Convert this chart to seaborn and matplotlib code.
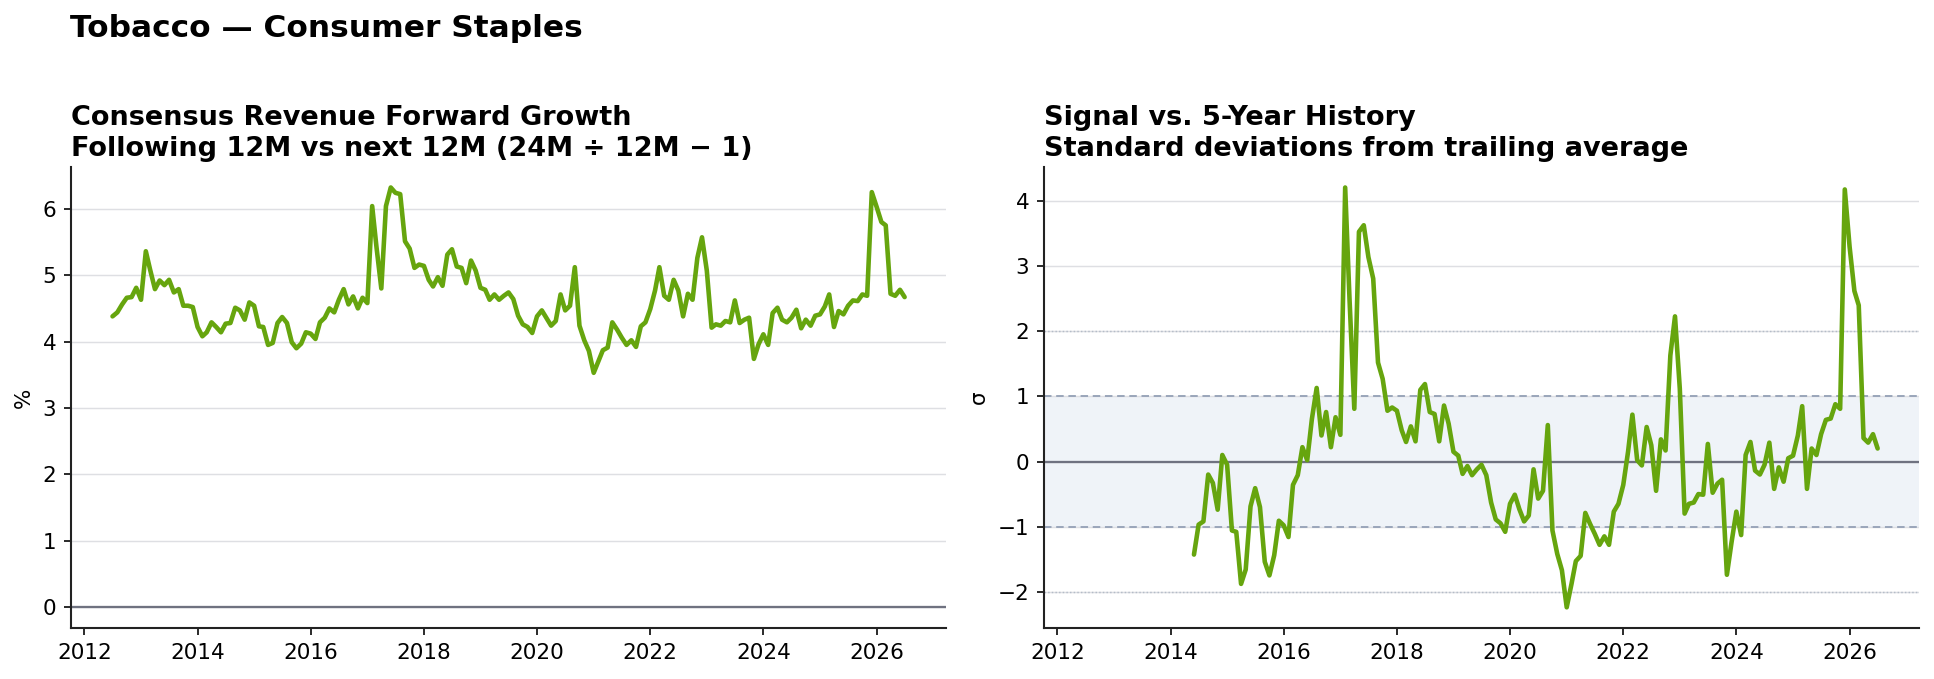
import matplotlib
matplotlib.use("Agg")
import matplotlib.pyplot as plt
import matplotlib.dates as mdates
import numpy as np
import pandas as pd
import seaborn as sns

# ---------------- data ----------------
growth_start = "2012-07-01"
growth_pct = [
    4.38, 4.44, 4.56, 4.66, 4.67, 4.81, 4.63, 5.36, 5.08, 4.79,
    4.92, 4.85, 4.93, 4.74, 4.79, 4.54, 4.54, 4.52, 4.22, 4.08,
    4.14, 4.29, 4.22, 4.14, 4.27, 4.28, 4.51, 4.47, 4.33, 4.59,
    4.54, 4.23, 4.22, 3.95, 3.98, 4.28, 4.37, 4.28, 3.99, 3.90,
    3.97, 4.14, 4.12, 4.04, 4.29, 4.36, 4.50, 4.44, 4.63, 4.79,
    4.56, 4.68, 4.50, 4.66, 4.58, 6.04, 5.42, 4.80, 6.04, 6.32,
    6.24, 6.22, 5.51, 5.40, 5.11, 5.16, 5.14, 4.93, 4.83, 4.97,
    4.84, 5.31, 5.39, 5.13, 5.11, 4.88, 5.22, 5.07, 4.81, 4.78,
    4.63, 4.71, 4.63, 4.69, 4.74, 4.64, 4.39, 4.26, 4.22, 4.13,
    4.38, 4.47, 4.36, 4.24, 4.31, 4.71, 4.47, 4.54, 5.12, 4.24,
    4.02, 3.86, 3.53, 3.71, 3.87, 3.91, 4.29, 4.18, 4.06, 3.95,
    4.02, 3.92, 4.23, 4.29, 4.49, 4.77, 5.12, 4.69, 4.63, 4.93,
    4.77, 4.38, 4.72, 4.63, 5.26, 5.57, 5.07, 4.21, 4.26, 4.24,
    4.31, 4.29, 4.62, 4.28, 4.33, 4.36, 3.74, 3.96, 4.11, 3.95,
    4.43, 4.51, 4.33, 4.29, 4.36, 4.48, 4.20, 4.33, 4.24, 4.39,
    4.41, 4.53, 4.71, 4.22, 4.46, 4.41, 4.54, 4.62, 4.61, 4.71,
    4.69, 6.25, 6.03, 5.80, 5.75, 4.72, 4.69, 4.78, 4.67,
]

zscore_start = "2014-06-01"
zscore_sigma = [
    -1.43, -0.97, -0.92, -0.20, -0.33, -0.74, 0.10,
    -0.05, -1.06, -1.08, -1.88, -1.66, -0.69, -0.41, -0.70, -1.54, -1.75,
    -1.44, -0.91, -0.98, -1.16, -0.36, -0.21, 0.22, 0.02, 0.65, 1.13,
    0.40, 0.76, 0.22, 0.68, 0.41, 4.21, 2.50, 0.81, 3.53, 3.63,
    3.14, 2.81, 1.52, 1.27, 0.78, 0.83, 0.78, 0.48, 0.30, 0.54,
    0.31, 1.10, 1.19, 0.76, 0.73, 0.31, 0.86, 0.58, 0.15, 0.09,
    -0.19, -0.07, -0.21, -0.12, -0.05, -0.21, -0.63, -0.89, -0.95, -1.08,
    -0.65, -0.51, -0.73, -0.92, -0.83, -0.12, -0.57, -0.45, 0.56, -1.06,
    -1.42, -1.67, -2.24, -1.88, -1.53, -1.45, -0.79, -0.96, -1.11, -1.28,
    -1.15, -1.28, -0.77, -0.65, -0.36, 0.15, 0.72, 0.02, -0.06, 0.53,
    0.25, -0.45, 0.34, 0.17, 1.63, 2.23, 1.12, -0.80, -0.65, -0.63,
    -0.50, -0.51, 0.27, -0.48, -0.34, -0.28, -1.74, -1.24, -0.77, -1.13,
    0.10, 0.30, -0.14, -0.20, -0.05, 0.29, -0.42, -0.09, -0.31, 0.05,
    0.09, 0.40, 0.85, -0.42, 0.20, 0.10, 0.42, 0.64, 0.66, 0.88,
    0.81, 4.18, 3.30, 2.62, 2.40, 0.36, 0.29, 0.42, 0.20,
]

suptitle = "Tobacco \u2014 Consumer Staples"
left_title = "Consensus Revenue Forward Growth\nFollowing 12M vs next 12M (24M \u00f7 12M \u2212 1)"
right_title = "Signal vs. 5-Year History\nStandard deviations from trailing average"
left_ylabel = "%"
right_ylabel = "\u03c3"

# ---------------- style ----------------
sns.set_theme(style="ticks")
plt.rcParams["font.family"] = ["DejaVu Sans"]
plt.rcParams["text.color"] = "black"
plt.rcParams["axes.labelcolor"] = "black"

LINE = "#66a50e"
GRID = "#dedfe3"
ZERO = "#6f7280"
BAND = "#eff3f8"
BAND_EDGE = "#97a3b8"
DOT = "#b4bcc8"

df_g = pd.DataFrame({"date": pd.date_range(growth_start, periods=len(growth_pct), freq="MS"),
                     "value": growth_pct})
df_z = pd.DataFrame({"date": pd.date_range(zscore_start, periods=len(zscore_sigma), freq="MS"),
                     "value": zscore_sigma})

W, H = 1934, 679
DPI = 150
fig = plt.figure(figsize=(W / DPI, H / DPI), dpi=DPI)

ax_b = 1 - 628.3 / H
ax_h = (628.3 - 166.5) / H
ax1 = fig.add_axes([71 / W, ax_b, (946 - 71) / W, ax_h])
ax2 = fig.add_axes([1044 / W, ax_b, (1919 - 1044) / W, ax_h], sharex=ax1)

# left panel
ax1.axhline(0, color=ZERO, lw=1.1, zorder=1)
sns.lineplot(data=df_g, x="date", y="value", ax=ax1, color=LINE, lw=2.2, zorder=3)

# right panel
ax2.axhspan(-1, 1, color=BAND, lw=0, zorder=0)
for v in (-1, 1):
    ax2.axhline(v, color=BAND_EDGE, lw=0.9, ls=(0, (4, 2.5)), zorder=1)
for v in (-2, 2):
    ax2.axhline(v, color=DOT, lw=0.7, ls=(0, (1, 1.5)), zorder=1)
ax2.axhline(0, color=ZERO, lw=1.1, zorder=1)
sns.lineplot(data=df_z, x="date", y="value", ax=ax2, color=LINE, lw=2.2, zorder=3)

ax1.set_xlim(pd.Timestamp("2011-10-07"), pd.Timestamp("2027-03-25"))

for ax, title, ylab in ((ax1, left_title, left_ylabel), (ax2, right_title, right_ylabel)):
    ax.set_title(title, loc="left", fontsize=13, fontweight="bold", pad=5,
                 linespacing=1.25, color="black")
    ax.set_ylabel(ylab, fontsize=10.3, color="black")
    ax.set_xlabel("")
    ax.grid(axis="y", color=GRID, lw=0.7, zorder=0)
    ax.grid(axis="x", visible=False)
    ax.set_axisbelow(True)
    for s in ("top", "right"):
        ax.spines[s].set_visible(False)
    for s in ("left", "bottom"):
        ax.spines[s].set_color("#222222")
        ax.spines[s].set_linewidth(1.0)
    ax.tick_params(axis="both", labelsize=10.3, length=3.5, width=0.9,
                   colors="#222222", labelcolor="black")
    ax.xaxis.set_major_locator(mdates.YearLocator(2))
    ax.xaxis.set_major_formatter(mdates.DateFormatter("%Y"))
    ax.tick_params(axis="x", labelbottom=True)

ax1.set_yticks([0, 1, 2, 3, 4, 5, 6])
ax2.set_yticks([-2, -1, 0, 1, 2, 3, 4])

fig.text(70 / W, 1 - 14 / H, suptitle, ha="left", va="top", fontsize=15,
         fontweight="bold", color="black")

fig.savefig("out.png", dpi=DPI)
